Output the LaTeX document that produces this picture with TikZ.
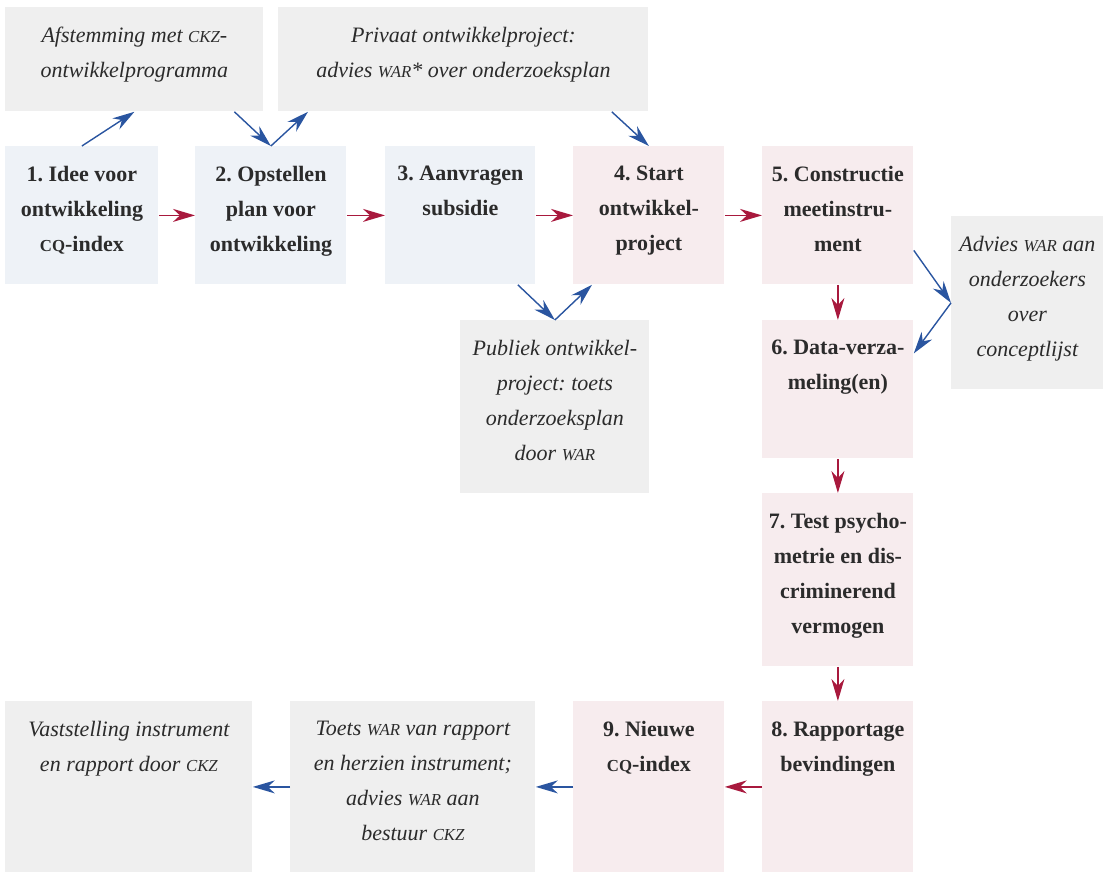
\documentclass[tikz,border=0pt]{standalone}
\usepackage{fontspec}
\setmainfont{Liberation Serif}
\usetikzlibrary{arrows.meta}

\definecolor{blauwvak}{HTML}{EEF2F7}
\definecolor{rozevak}{HTML}{F7ECEE}
\definecolor{grijsvak}{HTML}{EFEFEF}
\definecolor{pijlrood}{HTML}{A8193D}
\definecolor{pijlblauw}{HTML}{2A55A0}
\definecolor{tekst}{HTML}{2B2B2B}

\newcommand{\kap}[1]{{\fontsize{8.4pt}{8.4pt}\selectfont #1}}
\newcommand{\vak}[3]{\parbox[t][#2][t]{#1}{\centering\frenchspacing #3}}

\begin{document}
\begin{tikzpicture}[x=0.5pt, y=-0.5pt,
	stap/.style={anchor=north west, inner xsep=0pt, inner ysep=10pt, text=tekst},
	proces/.style={stap, fill=blauwvak, font=\fontsize{11pt}{17.5pt}\selectfont\bfseries},
	project/.style={stap, fill=rozevak, font=\fontsize{11pt}{17.5pt}\selectfont\bfseries},
	advies/.style={stap, fill=grijsvak, font=\fontsize{11pt}{17.5pt}\selectfont\itshape},
	rood/.style={draw=pijlrood, line width=0.7pt, -{Stealth[length=11pt, width=6.5pt, inset=3.5pt]}},
	blauw/.style={draw=pijlblauw, line width=0.7pt, -{Stealth[length=11pt, width=6.5pt, inset=3.5pt]}}]
	\useasboundingbox (0, 0) rectangle (1110, 873);

	% bovenste rij
	\node[advies] (afstemming) at (5, 7) {\vak{129pt}{32pt}{Afstemming met \kap{CKZ}-\\ontwikkelprogramma}};
	\node[advies] (privaat) at (278, 7) {\vak{185pt}{32pt}{Privaat ontwikkelproject:\\advies \kap{WAR}* over onderzoeksplan}};

	% stappen 1 t/m 5
	\node[proces] (idee) at (5, 146) {\vak{76.5pt}{49pt}{1. Idee voor\\ontwikkeling\\\kap{CQ}-index}};
	\node[proces] (opstellen) at (195, 146) {\vak{75.5pt}{49pt}{2. Opstellen\\plan voor\\ontwikkeling}};
	\node[proces] (aanvragen) at (385, 146) {\vak{75pt}{49pt}{3. Aanvragen\\subsidie}};
	\node[project] (start) at (573, 146) {\vak{75.5pt}{49pt}{4. Start\\ontwikkel-\\project}};
	\node[project] (constructie) at (762, 146) {\vak{75.5pt}{49pt}{\makebox[\linewidth]{5. Constructie}\\meetinstru-\\ment}};

	% zijvakken
	\node[advies] (conceptlijst) at (951, 216) {\vak{76pt}{66.5pt}{\makebox[\linewidth]{Advies \kap{WAR} aan}\\onderzoekers\\over\\conceptlijst}};
	\node[advies] (publiek) at (460, 320) {\vak{94.5pt}{66.5pt}{Publiek ontwikkel-\\project: toets\\onderzoeksplan\\door \kap{WAR}}};

	% stappen 6 t/m 9
	\node[project] (dataverz) at (762, 320) {\vak{75.5pt}{49pt}{\makebox[\linewidth]{6. Data-verza-}\\meling(en)}};
	\node[project] (test) at (762, 493) {\vak{75.5pt}{66.5pt}{\makebox[\linewidth]{7. Test psycho-}\\\makebox[\linewidth]{metrie en dis-}\\criminerend\\vermogen}};
	\node[project] (rapportage) at (762, 701) {\vak{75.5pt}{65.5pt}{\makebox[\linewidth]{8. Rapportage}\\bevindingen}};
	\node[project] (nieuw) at (573, 701) {\vak{75.5pt}{65.5pt}{9. Nieuwe\\\kap{CQ}-index}};
	\node[advies] (toets) at (290, 701) {\vak{122.5pt}{65.5pt}{Toets \kap{WAR} van rapport\\en herzien instrument;\\advies \kap{WAR} aan\\bestuur \kap{CKZ}}};
	\node[advies] (vaststelling) at (5, 701) {\vak{123.5pt}{65.5pt}{Vaststelling instrument\\en rapport door \kap{CKZ}}};

	% hoofdlijn
	\draw[rood] (idee.east) -- (opstellen.west);
	\draw[rood] (opstellen.east) -- (aanvragen.west);
	\draw[rood] (aanvragen.east) -- (start.west);
	\draw[rood] (start.east) -- (constructie.west);
	\draw[rood] (constructie.south) -- (dataverz.north);
	\draw[rood] (dataverz.south) -- (test.north);
	\draw[rood] (test.south) -- (rapportage.north);
	\draw[rood] (rapportage.west) -- (nieuw.east);

	% advies en toetsing
	\draw[blauw] (idee.north) -- (afstemming.south);
	\draw[blauw] ([xshift=50pt]afstemming.south) -- (opstellen.north);
	\draw[blauw] (opstellen.north) -- ([xshift=15pt]privaat.south west);
	\draw[blauw] ([xshift=-18.5pt]privaat.south east) -- (start.north);
	\draw[blauw] ([xshift=-9pt]aanvragen.south east) -- (publiek.north);
	\draw[blauw] (publiek.north) -- ([xshift=9.5pt]start.south west);
	\draw[blauw] ([yshift=-17.5pt]constructie.east) -- (conceptlijst.west);
	\draw[blauw] (conceptlijst.west) -- ([yshift=18pt]dataverz.east);
	\draw[blauw] (nieuw.west) -- (toets.east);
	\draw[blauw] (toets.west) -- (vaststelling.east);

\end{tikzpicture}
\end{document}
